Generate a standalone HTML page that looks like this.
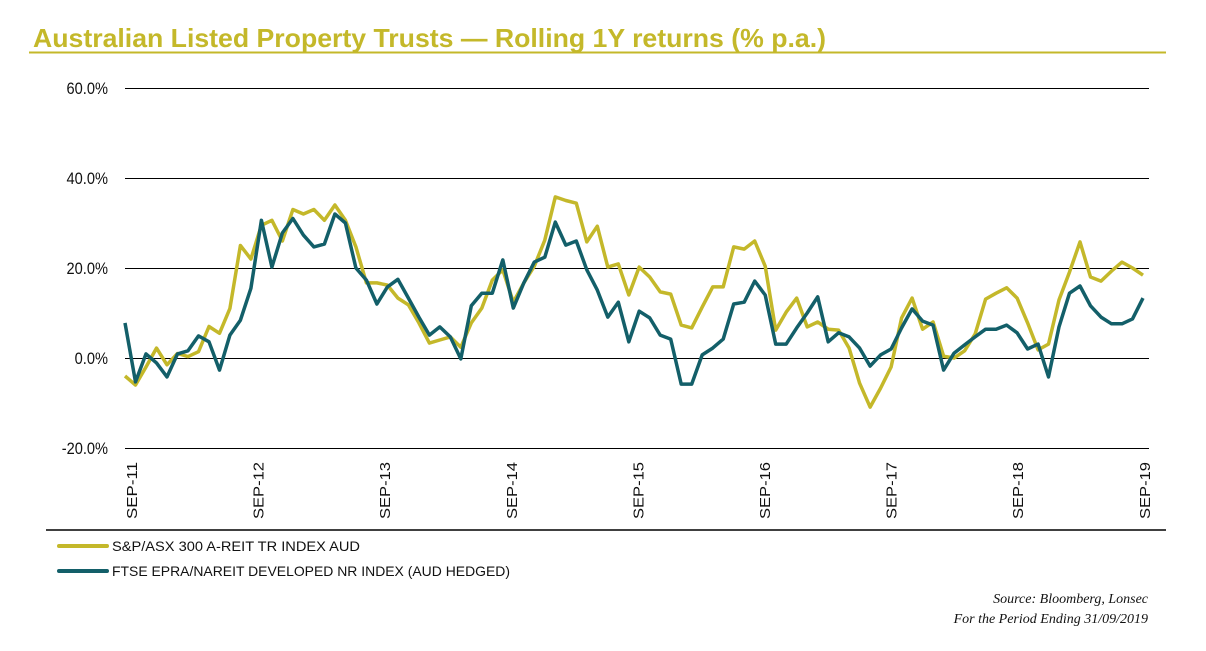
<!DOCTYPE html>
<html><head><meta charset="utf-8">
<style>
html,body{margin:0;padding:0;background:#fff;}
body{width:1206px;height:646px;overflow:hidden;position:relative;font-family:"Liberation Sans",sans-serif;}
</style></head>
<body>
<svg id="chart" width="1206" height="646" xmlns="http://www.w3.org/2000/svg">
  <text x="33" y="47" textLength="793" lengthAdjust="spacingAndGlyphs" font-family="Liberation Sans, sans-serif" font-weight="bold" font-size="26" fill="#c4b82a">Australian Listed Property Trusts — Rolling 1Y returns (% p.a.)</text>
  <line x1="29" y1="52.5" x2="1166" y2="52.5" stroke="#c4b82a" stroke-width="2"/>
  <g id="grid"></g>
  <g id="ylabels"></g>
  <g id="xlabels"></g>
  <line x1="46" y1="530" x2="1166" y2="530" stroke="#000" stroke-width="1.5"/>
  <g id="series"></g>
  <g>
    <line x1="59" y1="546" x2="107" y2="546" stroke="#c4b82a" stroke-width="4" stroke-linecap="round"/>
    <text x="112" y="551" textLength="248" lengthAdjust="spacingAndGlyphs" font-family="Liberation Sans, sans-serif" font-size="14" fill="#111">S&amp;P/ASX 300 A-REIT TR INDEX AUD</text>
    <line x1="59" y1="571" x2="107" y2="571" stroke="#135f69" stroke-width="4" stroke-linecap="round"/>
    <text x="112" y="576" textLength="398" lengthAdjust="spacingAndGlyphs" font-family="Liberation Sans, sans-serif" font-size="14" fill="#111">FTSE EPRA/NAREIT DEVELOPED NR INDEX (AUD HEDGED)</text>
  </g>
  <text x="1148" y="603" text-anchor="end" font-family="Liberation Serif, serif" font-style="italic" font-size="14" fill="#111">Source: Bloomberg, Lonsec</text>
  <text x="1148" y="623" text-anchor="end" font-family="Liberation Serif, serif" font-style="italic" font-size="14" fill="#111">For the Period Ending 31/09/2019</text>
</svg>
<script>
const yTicks = [60, 40, 20, 0, -20];
const yTickLabels = ["60.0%", "40.0%", "20.0%", "0.0%", "-20.0%"];
const xTickMonths = [0, 12, 24, 36, 48, 60, 72, 84, 96];
const xTickLabels = ["SEP-11","SEP-12","SEP-13","SEP-14","SEP-15","SEP-16","SEP-17","SEP-18","SEP-19"];
const areit = [-4,-6,-2,2.2,-1.5,1,0.3,1.4,7,5.5,11,25,22,29.5,30.6,26,33,32,33,30.6,34,30.6,24.7,16.7,16.7,16.2,13.3,11.8,7.8,3.3,4,4.7,2.4,7.8,
11.1,17.3,19.6,12.4,16.7,20.4,26.2,35.8,35,34.4,25.8,29.3,20.2,20.9,14,20.2,18,14.7,14.2,7.3,6.7,11.3,15.8,15.8,24.7,24.2,26,20.4,6.2,10.2,13.3,
6.9,8,6.4,6.2,2.2,-5.6,-10.9,-6.7,-2,8.9,13.3,6.4,8,0.4,0,1.6,5.3,13.1,14.4,15.6,13.3,7.8,1.8,3.1,12.9,19.1,25.8,18,17.1,19.3,21.3,20,18.4];
const ftse = [7.8,-5.3,0.9,-1.1,-4.2,0.9,1.6,4.9,3.6,-2.7,5.1,8.4,15.5,30.6,20.2,27.8,31,27.3,24.7,25.3,32,30,20,17.3,12,15.8,17.5,13.3,9.1,5.1,6.9,4.7,-0.2,11.6,
14.4,14.4,21.8,11.1,16.7,21.3,22.4,30.2,25.1,26,19.6,15.1,9.1,12.4,3.6,10.4,8.9,5.1,4.2,-5.8,-5.8,0.7,2.2,4.2,12,12.4,17.1,14,3.1,3.1,6.7,
10,13.6,3.6,5.6,4.7,2.2,-1.8,0.7,2,6.7,10.9,8.2,7.3,-2.7,1.1,2.9,4.7,6.4,6.4,7.3,5.6,2,3.1,-4.2,6.9,14.4,16,11.6,9.1,7.6,7.6,8.7,13.3];

const NS = "http://www.w3.org/2000/svg";
const X0 = 125, X1 = 1143;
function yScale(v){ return 358 - v * 4.5; }
function xScale(i, n){ return X0 + (X1 - X0) * i / (n - 1); }
function xMonth(m){ return 132 + m * 10.55; }

const grid = document.getElementById('grid');
const ylab = document.getElementById('ylabels');
yTicks.forEach((t, k) => {
  const ln = document.createElementNS(NS, 'line');
  
  
  ln.setAttribute('x1', 125); ln.setAttribute('x2', 1149);
  ln.setAttribute('y1', yScale(t) + 0.5); ln.setAttribute('y2', yScale(t) + 0.5);
  ln.setAttribute('stroke', '#000'); ln.setAttribute('stroke-width', '1');
  grid.appendChild(ln);
  const tx = document.createElementNS(NS, 'text');
  
  
  tx.setAttribute('x', 108); tx.setAttribute('y', yScale(t) + 6);
  tx.setAttribute('text-anchor', 'end');
  tx.setAttribute('font-family', 'Liberation Sans, sans-serif');
  tx.setAttribute('font-size', '17'); tx.setAttribute('fill', '#111');
  tx.setAttribute('transform', 'translate(108 0) scale(0.86 1) translate(-108 0)');
  tx.textContent = yTickLabels[k];
  ylab.appendChild(tx);
});

const xl = document.getElementById('xlabels');
xTickMonths.forEach((m, k) => {
  const tx = document.createElementNS(NS, 'text');
  
  
  const x = xMonth(m) + 5, y = 519;
  tx.setAttribute('x', x); tx.setAttribute('y', y);
  tx.setAttribute('transform', 'rotate(-90 ' + x + ' ' + y + ')');
  tx.setAttribute('textLength', '57');
  tx.setAttribute('lengthAdjust', 'spacingAndGlyphs');
  tx.setAttribute('font-family', 'Liberation Sans, sans-serif');
  tx.setAttribute('font-size', '15'); tx.setAttribute('fill', '#111');
  tx.textContent = xTickLabels[k];
  xl.appendChild(tx);
});

const sg = document.getElementById('series');
function drawSeries(arr, color, name){
  const d = arr.map((v, i) => (i ? 'L' : 'M') + xScale(i, arr.length).toFixed(1) + ' ' + yScale(v).toFixed(1)).join(' ');
  const p = document.createElementNS(NS, 'path');
  
  
  p.setAttribute('d', d);
  p.setAttribute('fill', 'none'); p.setAttribute('stroke', color);
  p.setAttribute('stroke-width', '3.5'); p.setAttribute('stroke-linejoin', 'round');
  sg.appendChild(p);
}
drawSeries(areit, '#c4b82a', 'areit-line');
drawSeries(ftse, '#135f69', 'ftse-line');
</script>
</body></html>
